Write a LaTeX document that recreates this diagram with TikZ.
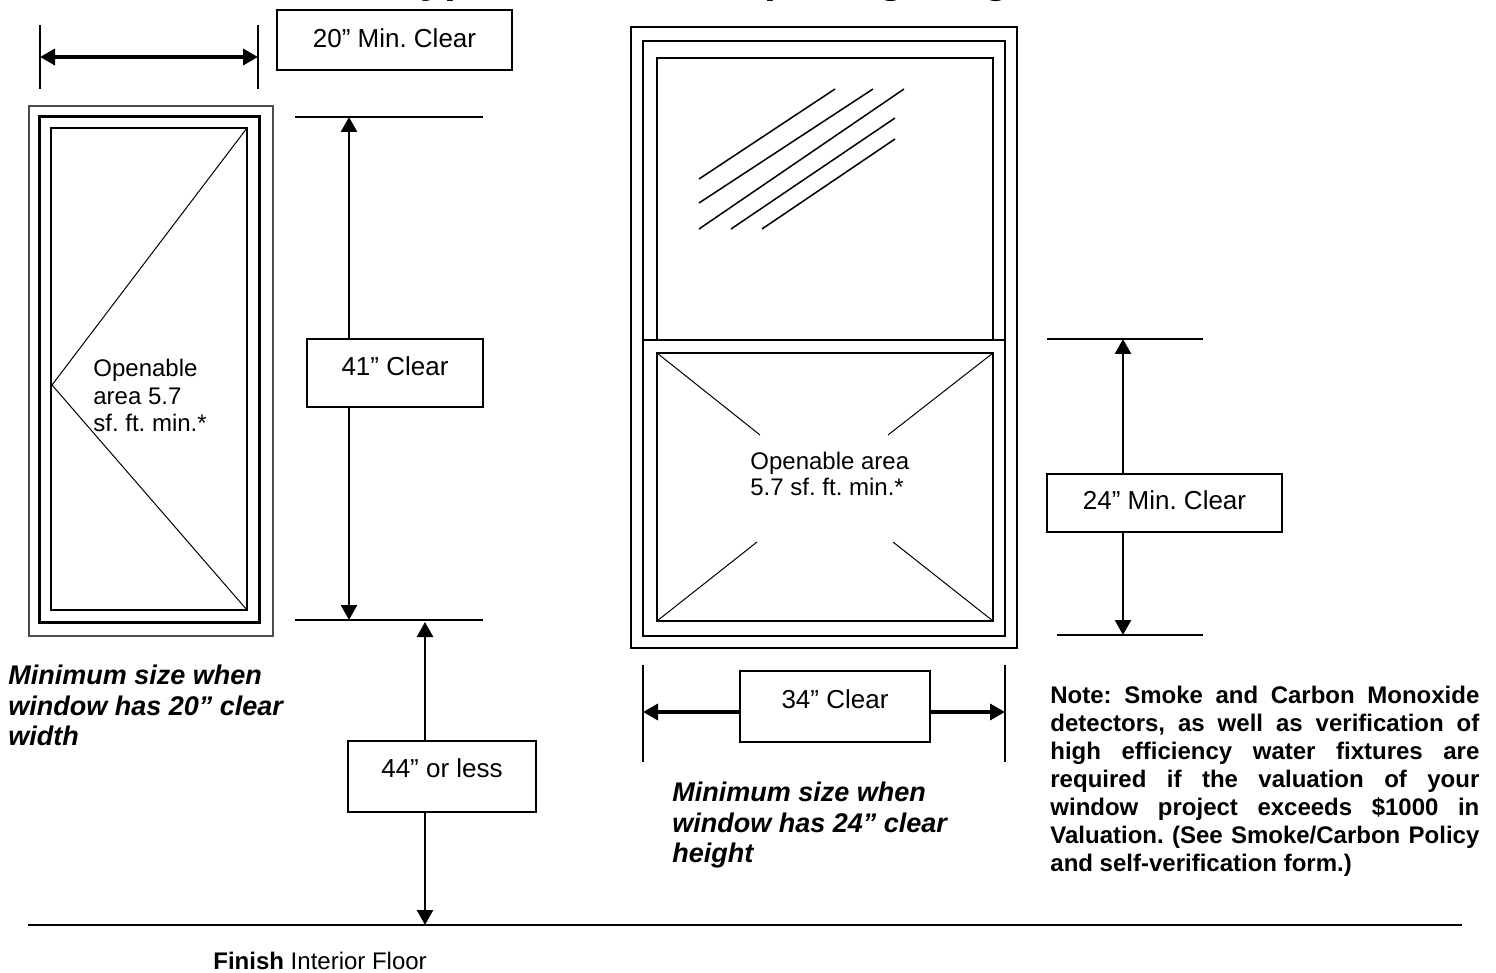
\documentclass[tikz,border=0pt]{standalone}
\usepackage{fontspec}
\setmainfont{Liberation Sans}
\usetikzlibrary{arrows.meta}
\frenchspacing
\begin{document}
\begin{tikzpicture}[x=0.5pt,y=-0.5pt,>={Triangle[length=7.5pt,width=8pt]},
        vdim/.style={line width=1.25pt},
        hdim/.style={line width=1.75pt},
        dimbox/.style={draw, line width=1pt, inner sep=0pt, text height=9.4pt, font=\fontsize{13}{15}\selectfont},
        sash/.style={line width=1.25pt},
        thin/.style={line width=0.5pt},
        caption/.style={anchor=north west, align=left, inner sep=0pt, font=\fontsize{13.5}{15.25}\selectfont\bfseries\itshape}]
        \useasboundingbox (0,0) rectangle (1496,973);
        \node[anchor=base west, inner sep=0pt, font=\fontsize{21.5}{24}\selectfont\bfseries] (title) at (397,-7) {Typical Window Opening Diagram};
        % 20" width
        \draw [line width=0.75pt] (40,25) -- (40,89);
        \draw [line width=0.75pt] (258,25) -- (258,89);
        \coordinate (w20l) at (40,57);
        \coordinate (w20r) at (258,57);
        \draw [hdim, <->] (w20l) -- (w20r);
        \node[dimbox, minimum width=117.5pt, minimum height=30pt, text depth=2pt] (b20) at (394.5,40) {20” Min. Clear};
        % left window
        \draw [line width=0.8pt, black!70] (29,106) rectangle (273,636);
        \draw [line width=1.5pt] (39,117) rectangle (259,622);
        \draw [sash] (51,128) rectangle (247,610);
        \draw [thin] (247,128) -- (52,385) -- (247,610);
        \node[anchor=north west, align=left, inner sep=0pt, font=\fontsize{12}{13.75}\selectfont] (open1) at (93,359) {Openable\\area 5.7\\sf. ft. min.*};
        % 41" height
        \draw [line width=1pt] (295,117) -- (483,117);
        \draw [line width=1pt] (295,620) -- (483,620);
        \node[dimbox, minimum width=88pt, minimum height=34pt, text depth=7pt] (b41) at (395,373) {41” Clear};
        \coordinate (h41top) at (349,117);
        \coordinate (h41bot) at (349,620);
        \draw [vdim, ->] (b41.north -| h41top) -- (h41top);
        \draw [vdim, ->] (b41.south -| h41bot) -- (h41bot);
        % 44" sill
        \node[dimbox, minimum width=94pt, minimum height=35.5pt, text depth=8pt] (b44) at (442,776.5) {44” or less};
        \coordinate (s44top) at (425,622);
        \coordinate (s44bot) at (425,925);
        \draw [vdim, ->] (b44.north -| s44top) -- (s44top);
        \draw [vdim, ->] (b44.south -| s44bot) -- (s44bot);
        \node[caption] (cap20) at (8,665) {Minimum size when\\window has 20” clear\\width};
        % right window
        \draw [sash] (631,27) rectangle (1017,648);
        \draw [sash] (643,41) rectangle (1005,636);
        \draw [sash] (657,340) |- (993,58) -- (993,340);
        \draw [line width=0.75pt] (643,340) -- (1005,340);
        \draw [sash] (657,353) rectangle (993,621);
        \draw [line width=0.75pt] (699,179) -- (835,89);
        \draw [line width=0.75pt] (699,203) -- (873,89);
        \draw [line width=0.75pt] (699,229) -- (904,89);
        \draw [line width=0.75pt] (731,229) -- (895,118);
        \draw [line width=0.75pt] (762,229) -- (895,139);
        \draw [thin] (657,353) -- (760,435);
        \draw [thin] (993,353) -- (888,435);
        \draw [thin] (657,621) -- (757,542);
        \draw [thin] (993,621) -- (893,542);
        \node[anchor=north west, align=left, inner sep=0pt, font=\fontsize{12}{13}\selectfont] (open2) at (750,452) {Openable area\\5.7 sf. ft. min.*};
        % 24" height
        \draw [line width=1pt] (1047,339) -- (1203,339);
        \draw [line width=1pt] (1057,635) -- (1203,635);
        \node[dimbox, minimum width=117.5pt, minimum height=29pt, text depth=2.8pt] (b24) at (1164.5,503) {24” Min. Clear};
        \coordinate (h24top) at (1123,339);
        \coordinate (h24bot) at (1123,635);
        \draw [vdim, ->] (b24.north -| h24top) -- (h24top);
        \draw [vdim, ->] (b24.south -| h24bot) -- (h24bot);
        % 34" width
        \draw [line width=0.75pt] (643,665) -- (643,762);
        \draw [line width=0.75pt] (1005,665) -- (1005,762);
        \node[dimbox, minimum width=95pt, minimum height=35.5pt, text depth=7.7pt] (b34) at (835,706.5) {34” Clear};
        \coordinate (w34l) at (643,712);
        \coordinate (w34r) at (1005,712);
        \draw [hdim, ->] (b34.west |- w34l) -- (w34l);
        \draw [hdim, ->] (b34.east |- w34r) -- (w34r);
        \node[caption] (cap24) at (672,782) {Minimum size when\\window has 24” clear\\height};
        % note
        \node[anchor=north west, inner sep=0pt, text width=214.5pt, align=justify, font=\fontsize{12}{14}\selectfont\bfseries] (note) at (1050,686) {\hyphenpenalty=10000 Note: Smoke and Carbon Monoxide\linebreak detectors, as well as verification of\linebreak high efficiency water fixtures are\linebreak required if the valuation of your\linebreak window project exceeds \$1000 in\linebreak Valuation. (See Smoke/Carbon Policy\linebreak and self-verification form.)};
        % floor
        \draw [line width=1pt] (28,925) -- (1462,925);
        \node[anchor=base west, inner sep=0pt, font=\fontsize{12}{14}\selectfont] (floor) at (213,969) {\textbf{Finish} Interior Floor};
\end{tikzpicture}
\end{document}
